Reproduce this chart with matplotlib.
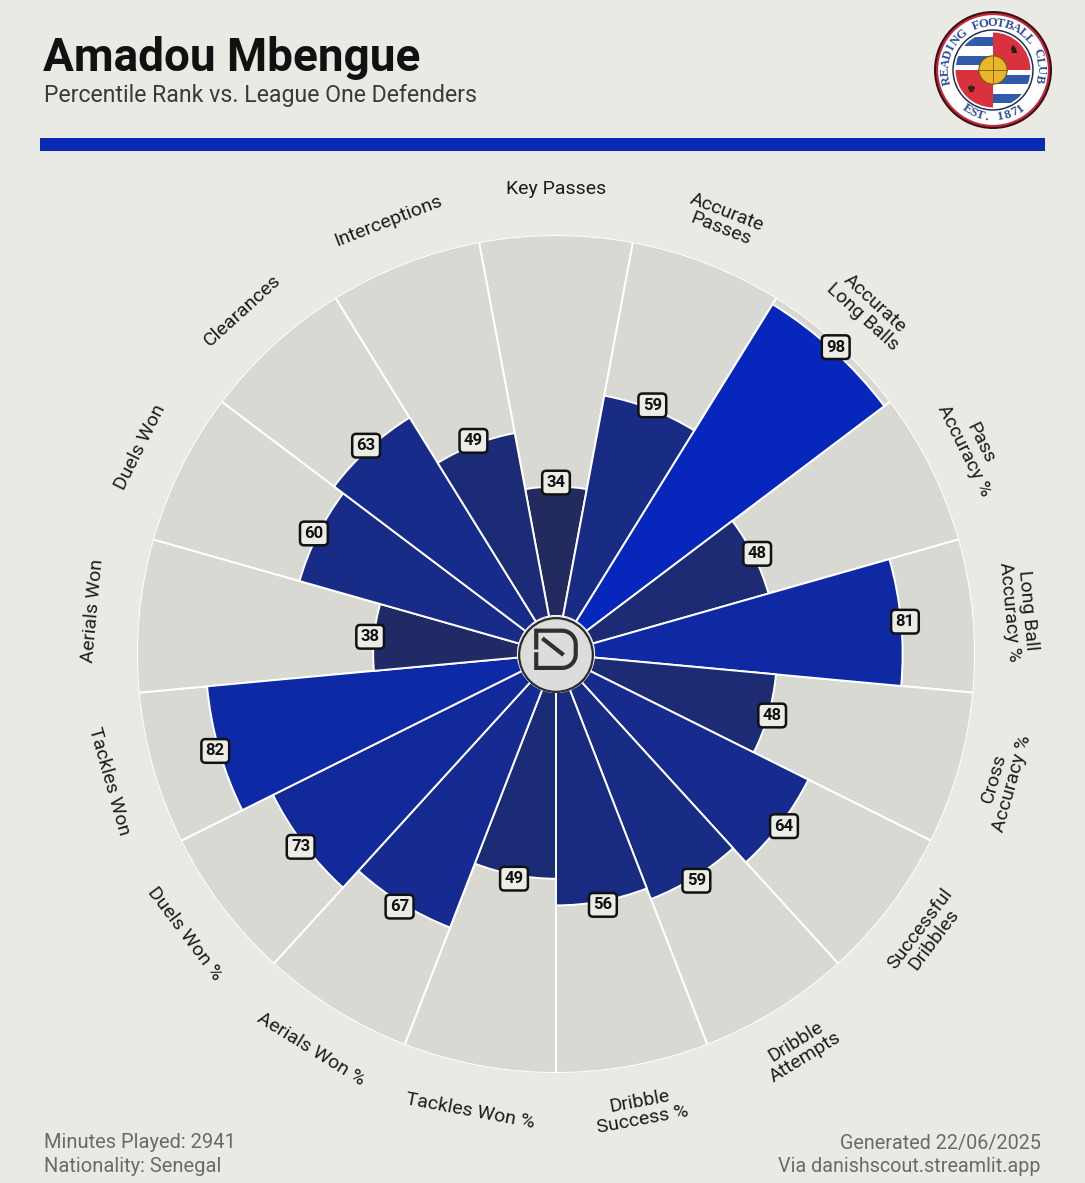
import numpy as np
import matplotlib.pyplot as plt
from matplotlib.patches import Circle, Rectangle
from matplotlib.colors import LinearSegmentedColormap, Normalize

plt.rcParams['font.family'] = ['Roboto', 'DejaVu Sans']

W, H = 1085, 1183
BG = '#EAEAE5'
SLICE = '#D9D9D3'
ACCENT = '#0A2AB3'

player = "Amadou Mbengue"
subtitle = "Percentile Rank vs. League One Defenders"

# clockwise from the top
metrics = ["Key Passes", "Accurate\nPasses", "Accurate\nLong Balls", "Pass\nAccuracy %",
           "Long Ball\nAccuracy %", "Cross\nAccuracy %", "Successful\nDribbles",
           "Dribble\nAttempts", "Dribble\nSuccess %", "Tackles Won %", "Aerials Won %",
           "Duels Won %", "Tackles Won", "Aerials Won", "Duels Won", "Clearances",
           "Interceptions"]
percentiles = [34, 59, 98, 48, 81, 48, 64, 59, 56, 49, 67, 73, 82, 38, 60, 63, 49]

footer_left = ["Minutes Played: 2941", "Nationality: Senegal"]
footer_right = ["Generated 22/06/2025", "Via danishscout.streamlit.app"]

club_ring_top = "READING FOOTBALL CLUB"
club_ring_bottom = "EST. 1871"


def px_axes(fig, cx, cy, r):
    # square axes centred on pixel (cx, cy) with half-size r
    return fig.add_axes([(cx - r) / W, 1 - (cy + r) / H, 2 * r / W, 2 * r / H])


def draw_logo(fig):
    lax = px_axes(fig, 556, 655, 38)
    lax.set_xlim(-1, 1); lax.set_ylim(-1, 1); lax.axis('off')
    lax.add_patch(Circle((0, 0), 0.97, fc='#DCDCDA', ec='#2b2b2b', lw=1.6))
    # D outline with the S cut through it
    t = np.linspace(np.pi / 2, 0, 12)
    top_arc = np.c_[0.16 + 0.36 * np.cos(t), 0.28 + 0.36 * np.sin(t)]
    t2 = np.linspace(0, -np.pi / 2, 12)
    bot_arc = np.c_[0.16 + 0.36 * np.cos(t2), 0.02 + 0.36 * np.sin(t2)]
    pts = np.vstack([[-0.52, 0.20], [-0.52, 0.64], [0.16, 0.64], top_arc,
                     bot_arc, [-0.52, -0.34], [-0.52, 0.02]])
    lax.plot(pts[:, 0], pts[:, 1], color='#2f2f2f', lw=3.0, solid_joinstyle='miter')
    lax.plot([-0.36, 0.20], [0.44, 0.00], color='#2f2f2f', lw=3.0, solid_capstyle='butt')


def draw_crest(fig):
    cax = px_axes(fig, 993, 70, 59)
    cax.set_xlim(-1, 1); cax.set_ylim(-1, 1); cax.axis('off')
    cax.add_patch(Circle((0, 0), 1.0, fc='#3a1014'))
    cax.add_patch(Circle((0, 0), 0.965, fc='#C8283A'))
    cax.add_patch(Circle((0, 0), 0.93, fc='white'))
    cax.add_patch(Circle((0, 0), 0.69, fc='#1d2b50'))
    cax.add_patch(Circle((0, 0), 0.665, fc='white'))
    clip = Circle((0, 0), 0.635, transform=cax.transData)
    blue, red = '#2F5BA8', '#D9313D'
    parts = [Rectangle((-0.7, 0), 0.7, 0.7, fc='white'),
             Rectangle((0, -0.7), 0.7, 0.7, fc='white'),
             Rectangle((0, 0), 0.7, 0.7, fc=red),
             Rectangle((-0.7, -0.7), 0.7, 0.7, fc=red)]
    for y0 in [0.40, 0.08]:
        parts.append(Rectangle((-0.7, y0), 0.7, 0.16, fc=blue))
    for y0 in [-0.24, -0.56]:
        parts.append(Rectangle((0, y0), 0.7, 0.16, fc=blue))
    for p in parts:
        cax.add_patch(p)
        p.set_clip_path(clip)
    cax.add_patch(Circle((0, 0), 0.24, fc='#E9B52A', ec='#7a5a10', lw=0.8))
    cax.plot([-0.24, 0.24], [0, 0], color='#7a5a10', lw=0.6)
    cax.plot([0, 0], [-0.24, 0.24], color='#7a5a10', lw=0.6)
    cax.text(0.34, 0.34, '\u265E', fontsize=8, color='#1a1a1a', ha='center', va='center',
             family=['DejaVu Sans'])
    cax.text(-0.36, -0.33, '\u265A', fontsize=7, color='#1a1a1a', ha='center', va='center',
             family=['DejaVu Sans'])
    # curved ring text
    angs = np.linspace(192, -10, len(club_ring_top))
    for ch, a in zip(club_ring_top, angs):
        ar = np.deg2rad(a)
        cax.text(0.80 * np.cos(ar), 0.80 * np.sin(ar), ch, rotation=a - 90,
                 ha='center', va='center', fontsize=9, color='#2B4C9C', fontweight='bold',
                 family=['Liberation Serif', 'DejaVu Serif'])
    angs = np.linspace(236, 306, len(club_ring_bottom))
    for ch, a in zip(club_ring_bottom, angs):
        ar = np.deg2rad(a)
        cax.text(0.80 * np.cos(ar), 0.80 * np.sin(ar), ch, rotation=a + 90,
                 ha='center', va='center', fontsize=9.5, color='#2B4C9C', fontweight='bold',
                 family=['Liberation Serif', 'DejaVu Serif'])


fig = plt.figure(figsize=(W / 100, H / 100), dpi=100, facecolor=BG)

# header
fig.text(43 / W, 1 - 71 / H, player, fontsize=33, fontweight='bold', color='#111111', va='baseline')
fig.text(44 / W, 1 - 102 / H, subtitle, fontsize=16.7, color='#3a3a3a', va='baseline')
fig.patches.append(Rectangle((40 / W, 1 - 151 / H), 1005 / W, 13 / H, fc=ACCENT, ec='none',
                             transform=fig.transFigure, figure=fig))

# pizza chart
ax = fig.add_axes([137 / W, 1 - 1073 / H, 838 / W, 838 / H], projection='polar')
ax.set_theta_zero_location('N')
ax.set_theta_direction(-1)

n = len(metrics)
width = 2 * np.pi / n
theta = np.arange(n) * width

cmap = LinearSegmentedColormap.from_list('blues', ['#232A58', '#162B8E', '#0626BE'])
norm = Normalize(30, 100)
bar_colors = [cmap(norm(v)) for v in percentiles]

ax.bar(theta, [100] * n, width=width, bottom=0, color=SLICE, edgecolor='white', linewidth=1.4, zorder=1)
ax.bar(theta, percentiles, width=width, bottom=0, color=bar_colors, edgecolor='white',
       linewidth=1.4, zorder=2)
ax.set_ylim(0, 100)
ax.set_rorigin(-10)
ax.set_axis_off()

for th, lab, v in zip(theta, metrics, percentiles):
    rot = -np.rad2deg(th)
    rot = (rot + 180) % 360 - 180
    if rot > 90:
        rot -= 180
    elif rot < -90:
        rot += 180
    ax.text(th, 112, lab, rotation=rot, rotation_mode='anchor', ha='center', va='center',
            fontsize=14, color='#1c1c1c', linespacing=1.0)
    ax.text(th, v + 1, str(v), ha='center', va='center', fontsize=12, fontweight='bold',
            color='#111111', zorder=5,
            bbox=dict(boxstyle='round,pad=0.26,rounding_size=0.25', fc='#ECECE7', ec='#111111', lw=1.8))

draw_logo(fig)
draw_crest(fig)

# footer
for i, (l, r) in enumerate(zip(footer_left, footer_right)):
    y = 1 - (1143 + 24 * i) / H
    fig.text(44 / W, y, l, fontsize=14.5, color='#6a6a6a', va='center', ha='left')
    fig.text(1041 / W, y, r, fontsize=14.2, color='#6a6a6a', va='center', ha='right')

fig.savefig('out.png', dpi=100, facecolor=BG)
